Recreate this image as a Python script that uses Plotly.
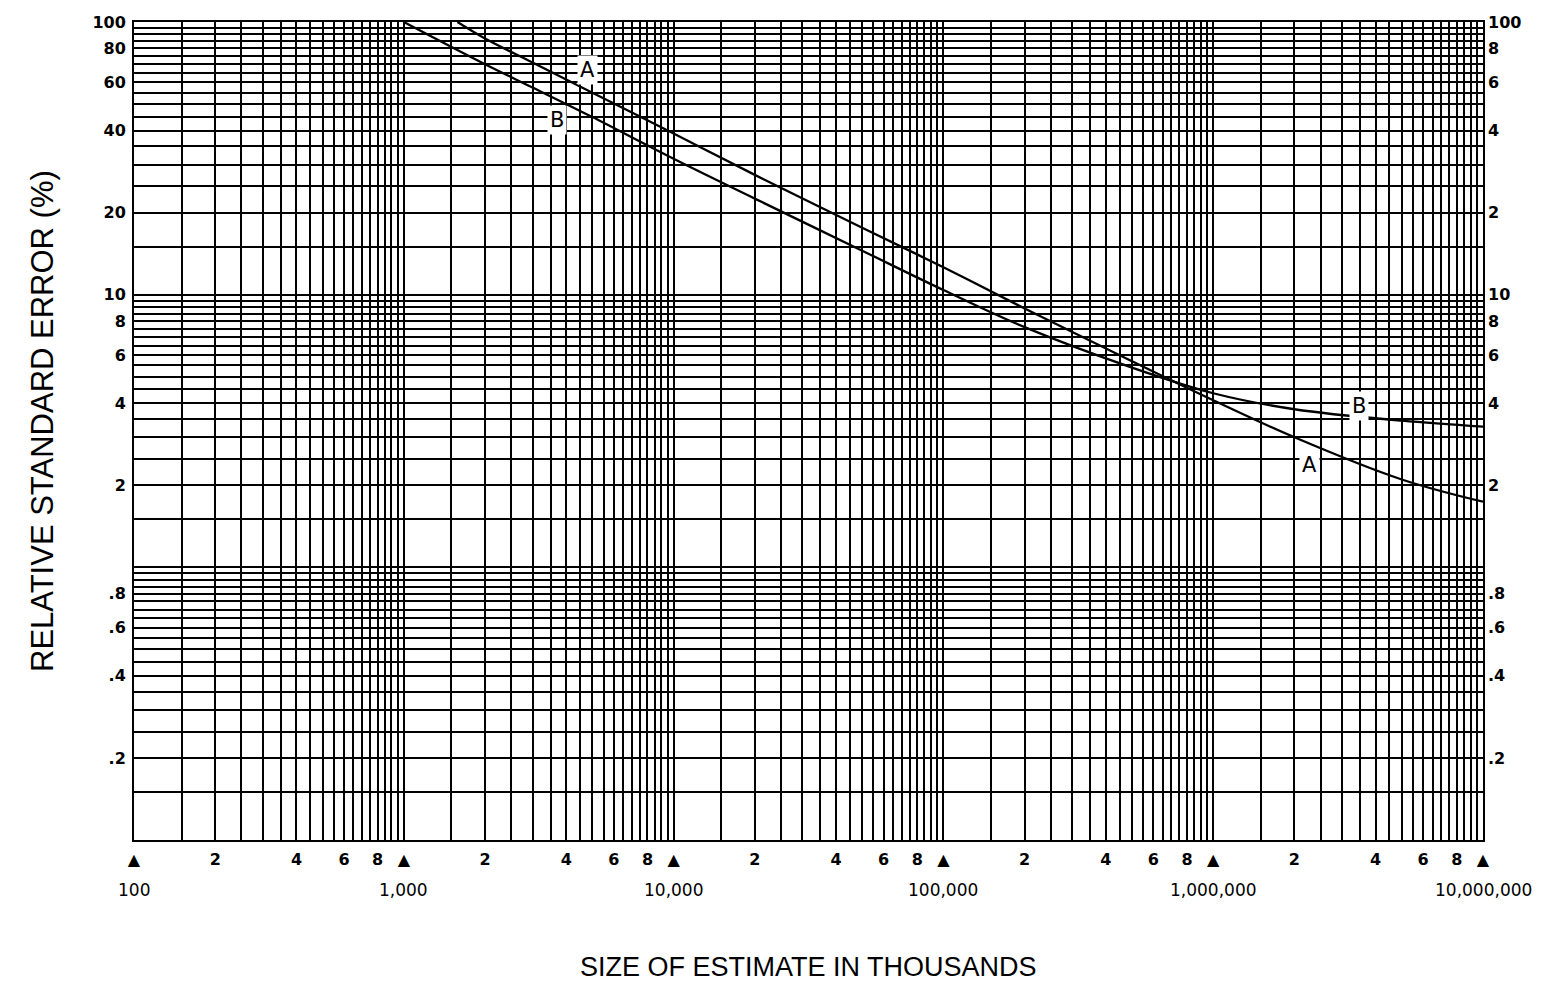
import numpy as np
import plotly.graph_objects as go

# ---- data ----
a_x = [1580, 2000, 3000, 5000, 10000, 20000, 50000, 100000, 200000, 500000,
       1000000, 2000000, 5000000, 10000000]
a_y = [100, 87, 71, 55, 39, 27.5, 17.6, 12.6, 8.9, 5.7, 4.1, 3.0, 2.1, 1.74]

b_x = [1000, 2000, 3000, 5000, 10000, 20000, 50000, 100000, 200000, 500000,
       1000000, 2000000, 5000000, 10000000]
b_y = [100, 70, 57.5, 44.8, 31.5, 22.5, 14.5, 10.4, 7.6, 5.4, 4.35, 3.8, 3.45, 3.28]

grid_mantissas = [1, 1.5, 2, 2.5, 3, 3.5, 4, 4.5, 5, 5.5, 6, 6.5, 7, 7.5, 8, 8.5, 9, 9.5]
x_decades = [100, 1000, 10000, 100000, 1000000]
x_end = 10000000
y_decades = [0.1, 1, 10]
y_end = 100

x_minor_labels = {2: "2", 4: "4", 6: "6", 8: "8"}
x_decade_labels = ["100", "1,000", "10,000", "100,000", "1,000,000", "10,000,000"]
x_decade_values = [100, 1000, 10000, 100000, 1000000, 10000000]

y_left_vals = [100, 80, 60, 40, 20, 10, 8, 6, 4, 2, 0.8, 0.6, 0.4, 0.2]
y_left_text = ["100", "80", "60", "40", "20", "10", "8", "6", "4", "2", ".8", ".6", ".4", ".2"]
y_right_text = ["100", "8", "6", "4", "2", "10", "8", "6", "4", "2", ".8", ".6", ".4", ".2"]

# ---- grid / tick construction ----
x_tickvals, x_ticktext = [], []
for d in x_decades:
    for m in grid_mantissas:
        x_tickvals.append(m * d)
        if m == 1:
            x_ticktext.append("▲")
        elif m in x_minor_labels:
            x_ticktext.append("<b>" + x_minor_labels[m] + "</b>")
        else:
            x_ticktext.append("")
x_tickvals.append(x_end)
x_ticktext.append("▲")

y_tickvals, y_ticktext = [], []
left_map = dict(zip([round(v, 6) for v in y_left_vals], y_left_text))
for d in y_decades:
    for m in grid_mantissas:
        v = round(m * d, 6)
        y_tickvals.append(v)
        y_ticktext.append(left_map.get(v, ""))
y_tickvals.append(y_end)
y_ticktext.append(left_map.get(y_end, ""))

fig = go.Figure()
fig.add_trace(go.Scatter(x=a_x, y=a_y, mode="lines", line=dict(color="black", width=2.3, shape="spline"),
                         showlegend=False, hoverinfo="skip"))
fig.add_trace(go.Scatter(x=b_x, y=b_y, mode="lines", line=dict(color="black", width=2.3, shape="spline"),
                         showlegend=False, hoverinfo="skip"))
fig.add_trace(go.Scatter(x=a_x, y=a_y, mode="lines", yaxis="y2", line=dict(width=0), opacity=0,
                         showlegend=False, hoverinfo="skip"))

fig.update_layout(
    width=1547, height=981,
    margin=dict(l=134, r=64, t=22, b=141),
    paper_bgcolor="white", plot_bgcolor="white",
    font=dict(family="DejaVu Sans", color="black"),
    xaxis=dict(type="log", range=[2, 7], tickmode="array", tickvals=x_tickvals, ticktext=x_ticktext,
               showgrid=True, gridcolor="black", gridwidth=1.7, ticks="",
               showline=True, linecolor="black", linewidth=2, mirror=True,
               tickfont=dict(family="DejaVu Sans", size=16, color="black"),
               ticklabelstandoff=4, zeroline=False),
    yaxis=dict(type="log", range=[-1, 2], tickmode="array", tickvals=y_tickvals, ticktext=y_ticktext,
               showgrid=True, gridcolor="black", gridwidth=1.7, ticks="",
               showline=True, linecolor="black", linewidth=2, mirror=True,
               tickfont=dict(family="DejaVu Sans", size=16, color="black", weight="bold"),
               ticklabelstandoff=3, zeroline=False),
    yaxis2=dict(type="log", range=[-1, 2], overlaying="y", side="right", tickmode="array",
                tickvals=y_left_vals, ticktext=y_right_text, showgrid=False, ticks="",
                showline=False, zeroline=False,
                tickfont=dict(family="DejaVu Sans", size=16, color="black", weight="bold"),
                ticklabelstandoff=4),
)

annotations = []
for v, t in zip(x_decade_values, x_decade_labels):
    annotations.append(dict(x=np.log10(v), y=0, xref="x", yref="paper", text=t, showarrow=False,
                            yshift=-50, xanchor="center", yanchor="middle",
                            font=dict(family="DejaVu Sans", size=17, color="black")))

# curve labels
for (lx, ly, t) in [(4800, 66.7, "A"), (3690, 43.8, "B"), (3470000, 3.91, "B"), (2270000, 2.38, "A")]:
    annotations.append(dict(x=np.log10(lx), y=np.log10(ly), xref="x", yref="y", text=t, showarrow=False,
                            bgcolor="white", borderpad=2,
                            font=dict(family="DejaVu Sans", size=21, color="black")))

annotations.append(dict(x=0.5, y=0, xref="paper", yref="paper", text="SIZE OF ESTIMATE IN THOUSANDS",
                        showarrow=False, yshift=-127, xanchor="center", yanchor="middle",
                        font=dict(family="Liberation Sans", size=27, color="black")))
annotations.append(dict(x=0, y=0.5, xref="paper", yref="paper", text="RELATIVE STANDARD ERROR (%)",
                        showarrow=False, xshift=-92, yshift=10, textangle=-90, xanchor="center",
                        yanchor="middle",
                        font=dict(family="Liberation Sans", size=31, color="black")))
fig.update_layout(annotations=annotations)

fig.write_html("out.html", config={"displayModeBar": False},
               post_script="document.body.style.margin='0';document.body.style.padding='0';")
